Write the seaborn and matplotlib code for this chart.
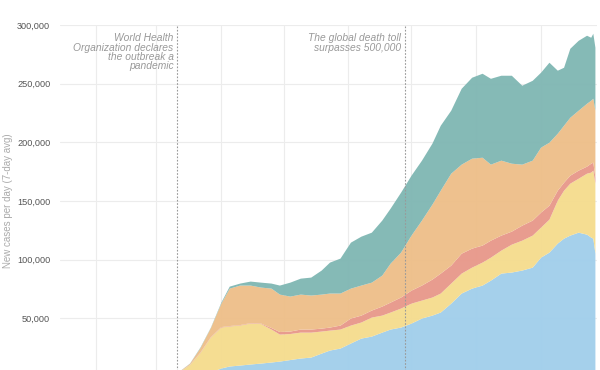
import numpy as np
import pandas as pd
import matplotlib.pyplot as plt
import matplotlib.dates as mdates
from matplotlib.ticker import FuncFormatter
import seaborn as sns

# 7-day average of new cases, in thousands
dates = pd.to_datetime([
    '2020-01-22', '2020-02-05', '2020-02-15', '2020-03-01', '2020-03-07',
    '2020-03-12', '2020-03-17', '2020-03-22', '2020-03-27', '2020-04-01',
    '2020-04-05', '2020-04-10', '2020-04-15', '2020-04-20', '2020-04-25',
    '2020-04-29', '2020-05-04', '2020-05-09', '2020-05-14', '2020-05-19',
    '2020-05-23', '2020-05-28', '2020-06-02', '2020-06-07', '2020-06-12',
    '2020-06-17', '2020-06-21', '2020-06-26', '2020-07-01', '2020-07-06',
    '2020-07-11', '2020-07-15', '2020-07-20', '2020-07-25', '2020-07-30',
    '2020-08-04', '2020-08-08', '2020-08-13', '2020-08-18', '2020-08-23',
    '2020-08-28', '2020-09-01', '2020-09-05', '2020-09-09', '2020-09-12',
    '2020-09-15', '2020-09-19', '2020-09-23', '2020-09-25', '2020-09-26',
    '2020-09-27'])

asia = [0.6, 3.0, 4.5, 1.5, 1.8, 1.5, 2.0, 2.6, 4.3, 7.7,
        9.4, 10.2, 11.1, 11.9, 12.8, 13.6, 14.9, 16.2, 17.0, 20.4,
        23.0, 24.7, 29.0, 33.2, 34.9, 38.3, 40.9, 42.6, 46.0, 50.3,
        52.8, 55.4, 63.0, 71.6, 75.8, 78.4, 82.6, 88.6, 89.5, 91.2,
        93.7, 102.2, 106.5, 114.2, 118.4, 121.0, 123.5, 121.8, 119.3, 118.4,
        105.6]
europe = [0, 0, 0, 0.5, 1.8, 3.0, 8.7, 18.3, 29.8, 34.9,
          34.1, 34.1, 34.9, 33.7, 28.1, 23.0, 22.2, 22.1, 21.3, 18.8,
          17.0, 16.2, 15.3, 13.7, 16.2, 14.5, 14.5, 16.2, 17.0, 15.3,
          15.4, 16.2, 17.1, 17.0, 17.9, 19.6, 19.6, 19.6, 23.8, 25.5,
          27.3, 25.6, 28.1, 36.6, 40.9, 44.3, 46.0, 52.0, 55.4, 58.0,
          59.7]
africa = [0, 0, 0, 0, 0, 0.1, 0.2, 0.4, 0.4, 0.4,
          0.4, 0.4, 0.4, 0.4, 1.3, 2.2, 2.1, 2.6, 2.6, 2.5,
          2.6, 3.4, 6.0, 5.9, 6.0, 7.7, 8.5, 9.4, 11.1, 12.8,
          15.3, 17.0, 15.3, 17.0, 16.2, 14.5, 14.5, 12.8, 11.1, 12.8,
          12.8, 12.8, 11.9, 8.5, 6.8, 6.8, 6.9, 6.0, 7.6, 6.8,
          5.1]
north_america = [0, 0, 0, 0, 0.2, 0.4, 0.8, 3.8, 7.7, 20.0,
                 31.9, 33.7, 32.0, 30.7, 33.6, 31.9, 29.8, 29.8, 29.0, 29.0,
                 29.0, 27.3, 25.5, 25.6, 23.8, 26.4, 33.2, 38.3, 46.9, 55.4,
                 63.9, 70.7, 78.4, 75.9, 76.7, 74.9, 64.8, 63.9, 57.9, 52.0,
                 51.1, 55.4, 53.7, 48.6, 48.6, 49.4, 51.1, 53.6, 53.7, 54.5,
                 57.1]
south_america = [0, 0, 0, 0, 0, 0.1, 0.2, 0.5, 0.4, 0.9,
                 1.7, 1.7, 3.4, 4.2, 4.3, 7.7, 11.9, 13.6, 15.3, 20.5,
                 26.4, 29.8, 39.2, 41.7, 42.6, 46.9, 46.9, 51.1, 51.1, 51.1,
                 52.0, 55.4, 53.7, 64.7, 69.0, 71.6, 73.2, 72.4, 75.0, 67.3,
                 68.1, 63.9, 68.2, 53.7, 49.4, 58.8, 59.6, 58.0, 53.7, 55.4,
                 53.7]

colors = ['#a1ceeb', '#f5dc8e', '#e8988a', '#eebf89', '#80b7b3']

events = [('2020-03-11', 'World Health\nOrganization declares\nthe outbreak a\npandemic'),
          ('2020-06-28', 'The global death toll\nsurpasses 500,000')]

sns.set_theme(style='whitegrid')
plt.rcParams['font.family'] = ['Liberation Sans', 'DejaVu Sans']

fig = plt.figure(figsize=(6, 3.7), dpi=100)
# bottom of the axes sits a little below the figure, as in the cropped original
ax = fig.add_axes([0.1, -0.019, 0.895, 0.951])

layers = np.array([asia, europe, africa, north_america, south_america]) * 1000
ax.stackplot(dates, layers, colors=colors, linewidth=0, alpha=0.96)

ax.set_xlim(pd.Timestamp('2020-01-15'), pd.Timestamp('2020-09-28'))
ax.set_ylim(0, 300000)
ax.set_yticks(range(50000, 300001, 50000))
ax.yaxis.set_major_formatter(FuncFormatter(lambda v, p: f'{int(v):,}'))
ax.xaxis.set_major_locator(mdates.MonthLocator())
ax.tick_params(axis='x', labelbottom=False, length=0)
ax.tick_params(axis='y', length=0, labelsize=6.6, labelcolor='#555555', pad=7)
ax.grid(True, color='#ececec', linewidth=0.8)
ax.set_axisbelow(True)
sns.despine(ax=ax, left=True, bottom=True)

ax.set_ylabel('New cases per day (7-day avg)', fontsize=7, color='#aaaaaa')
ax.yaxis.set_label_coords(-0.088, 0.5)

for day, label in events:
    d = pd.Timestamp(day)
    ax.axvline(d, color='#999999', linewidth=0.8, linestyle=(0, (1.5, 1.5)), zorder=3)
    ax.annotate(label, xy=(d, 293000), xytext=(-2.5, 0), textcoords='offset points',
                ha='right', va='top', fontsize=7.4, style='italic', color='#999999',
                linespacing=0.9)

fig.savefig('out.png', dpi=100)
